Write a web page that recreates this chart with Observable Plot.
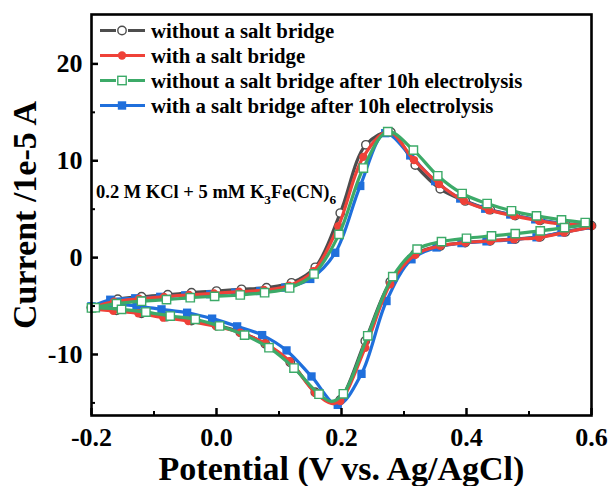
<!DOCTYPE html>
<html>
<head>
<meta charset="utf-8">
<script src="https://cdn.jsdelivr.net/npm/d3@7"></script>
<script src="https://cdn.jsdelivr.net/npm/@observablehq/plot@0.6"></script>
<style>
  body { margin: 0; background: #fff; }
  #chart { position: relative; width: 609px; height: 486px; font-family: "Liberation Serif", "Times New Roman", serif; }
  #chart svg { display: block; }
  .legend { position: absolute; left: 98px; top: 18px; font-weight: bold; font-size: 20.8px; color: #000; }
  .legend .row { display: flex; align-items: center; height: 25px; white-space: nowrap; }
  .legend .row svg { margin-right: 5px; }
  .note { position: absolute; left: 96px; top: 181px; font-weight: bold; font-size: 18.5px; white-space: nowrap; line-height: 22px; }
  .note sub { font-size: 0.72em; vertical-align: -0.45em; line-height: 0; }
</style>
</head>
<body>
<div id="chart"></div>
<script>
// ---- Cyclic voltammograms: potential (V vs. Ag/AgCl) and current (1e-5 A) ----
// Each scan: forward sweep -0.2 V -> 0.6 V, then reverse sweep back to -0.2 V.

const seriesNames = [
  "without a salt bridge",
  "with a salt bridge",
  "without a salt bridge after 10h electrolysis",
  "with a salt bridge after 10h electrolysis"
];

const switchE = 0.6; // upper switching potential

// without a salt bridge
const noBridgeFwdE = [-0.2, -0.158, -0.12, -0.078, -0.04, 0.0, 0.04, 0.08, 0.12, 0.158, 0.198, 0.239, 0.279, 0.318, 0.358, 0.398, 0.438, 0.478, 0.518, 0.558, 0.6];
const noBridgeFwdI = [-5.15, -4.3, -4.03, -3.83, -3.62, -3.45, -3.27, -3.1, -2.6, -1.0, 4.6, 11.65, 12.95, 9.55, 7.1, 5.85, 4.95, 4.35, 3.85, 3.5, 3.3];
const noBridgeRevE = [0.558, 0.518, 0.478, 0.438, 0.398, 0.358, 0.318, 0.278, 0.238, 0.198, 0.158, 0.118, 0.078, 0.038, 0.0, -0.04, -0.08, -0.12, -0.16, -0.2];
const noBridgeRevI = [2.65, 2.15, 1.92, 1.74, 1.56, 1.2, 0.4, -2.5, -8.6, -14.7, -13.9, -10.8, -8.9, -7.7, -7.0, -6.5, -6.1, -5.75, -5.45, -5.15];
const noBridgePeakC = [0.186, -15.0];

// with a salt bridge
const bridgeFwdE = [-0.2, -0.164, -0.124, -0.084, -0.044, -0.004, 0.036, 0.076, 0.116, 0.155, 0.195, 0.235, 0.275, 0.316, 0.356, 0.396, 0.436, 0.476, 0.516, 0.556, 0.6];
const bridgeFwdI = [-5.2, -4.55, -4.25, -4.05, -3.85, -3.7, -3.52, -3.35, -2.9, -1.4, 3.25, 10.4, 13.0, 10.07, 7.6, 5.86, 4.9, 4.31, 3.8, 3.45, 3.25];
const bridgeRevE = [0.556, 0.516, 0.476, 0.438, 0.398, 0.358, 0.318, 0.278, 0.238, 0.198, 0.158, 0.117, 0.078, 0.038, 0.0, -0.045, -0.085, -0.125, -0.165, -0.2];
const bridgeRevI = [2.59, 2.07, 1.9, 1.72, 1.55, 1.21, 0.3, -2.75, -9.3, -14.8, -13.96, -10.7, -8.85, -7.75, -7.1, -6.55, -6.2, -5.75, -5.5, -5.3];
const bridgePeakC = [0.184, -15.05];

// without a salt bridge, after 10 h electrolysis
const noBridge10hFwdE = [-0.2, -0.16, -0.12, -0.08, -0.042, -0.003, 0.038, 0.077, 0.117, 0.156, 0.196, 0.235, 0.274, 0.315, 0.354, 0.393, 0.433, 0.472, 0.512, 0.552, 0.59];
const noBridge10hFwdI = [-5.2, -4.75, -4.5, -4.34, -4.14, -4.0, -3.86, -3.62, -3.13, -1.69, 2.4, 9.25, 13.0, 11.1, 8.45, 6.62, 5.58, 4.83, 4.31, 3.9, 3.62];
const noBridge10hVertexI = 3.5;
const noBridge10hRevE = [0.557, 0.518, 0.478, 0.44, 0.4, 0.36, 0.321, 0.282, 0.242, 0.203, 0.164, 0.124, 0.084, 0.045, 0.005, -0.034, -0.074, -0.113, -0.152, -0.194];
const noBridge10hRevI = [3.1, 2.76, 2.48, 2.24, 2.0, 1.65, 0.87, -1.96, -8.07, -14.06, -14.1, -11.4, -9.3, -8.0, -7.06, -6.37, -6.03, -5.62, -5.34, -5.17];
const noBridge10hPeakC = [0.184, -14.85];

// with a salt bridge, after 10 h electrolysis
const bridge10hFwdE = [-0.2, -0.17, -0.13, -0.09, -0.05, -0.01, 0.03, 0.07, 0.11, 0.15, 0.19, 0.23, 0.27, 0.31, 0.35, 0.39, 0.43, 0.47, 0.51, 0.55, 0.59];
const bridge10hFwdI = [-5.05, -4.35, -4.2, -4.05, -3.9, -3.78, -3.62, -3.45, -3.1, -2.2, 0.5, 7.4, 12.85, 10.55, 7.9, 6.1, 5.05, 4.45, 3.95, 3.55, 3.3];
const bridge10hVertexI = 3.2;
const bridge10hRevE = [0.552, 0.512, 0.472, 0.432, 0.392, 0.352, 0.312, 0.272, 0.232, 0.194, 0.152, 0.112, 0.073, 0.033, -0.007, -0.047, -0.088, -0.128, -0.168, -0.2];
const bridge10hRevI = [2.6, 2.1, 1.85, 1.68, 1.5, 1.05, -0.17, -4.48, -12.0, -15.2, -12.27, -9.58, -8.0, -7.1, -6.3, -5.69, -5.34, -5.0, -4.8, -5.05];

// axis ticks
const xMajorTicks = [-0.2, 0.0, 0.2, 0.4, 0.6];
const xMinorTicks = [-0.1, 0.1, 0.3, 0.5];
const yMajorTicks = [-10, 0, 10, 20];
const yMinorTicks = [-15, -5, 5, 15];

const xTitle = "Potential (V vs. Ag/AgCl)";
const yTitle = "Current /1e-5 A";

// ---- assemble scans ----
const scans = [
  {name: seriesNames[0], fwdE: noBridgeFwdE, fwdI: noBridgeFwdI, revE: noBridgeRevE, revI: noBridgeRevI, vertexI: null, peakC: noBridgePeakC},
  {name: seriesNames[1], fwdE: bridgeFwdE, fwdI: bridgeFwdI, revE: bridgeRevE, revI: bridgeRevI, vertexI: null, peakC: bridgePeakC},
  {name: seriesNames[2], fwdE: noBridge10hFwdE, fwdI: noBridge10hFwdI, revE: noBridge10hRevE, revI: noBridge10hRevI, vertexI: noBridge10hVertexI, peakC: noBridge10hPeakC},
  {name: seriesNames[3], fwdE: bridge10hFwdE, fwdI: bridge10hFwdI, revE: bridge10hRevE, revI: bridge10hRevI, vertexI: bridge10hVertexI, peakC: null}
];

// look of each scan (legend order)
const looks = {
  [seriesNames[0]]: {color: "#4d4d4d", symbol: "circle", filled: false},
  [seriesNames[1]]: {color: "#ef4138", symbol: "circle", filled: true},
  [seriesNames[2]]: {color: "#3caa68", symbol: "square", filled: false},
  [seriesNames[3]]: {color: "#1f6fdc", symbol: "square", filled: true}
};
const drawOrder = [seriesNames[0], seriesNames[3], seriesNames[1], seriesNames[2]];

function tracePoints(s) {
  const pts = s.fwdE.map((e, i) => ({E: e, I: s.fwdI[i], marker: true}));
  if (s.vertexI != null) pts.push({E: switchE, I: s.vertexI, marker: false});
  const rev = s.revE.map((e, i) => ({E: e, I: s.revI[i], marker: true}));
  if (s.peakC) {
    const k = rev.findIndex(p => p.E < s.peakC[0]);
    rev.splice(k, 0, {E: s.peakC[0], I: s.peakC[1], marker: false});
  }
  return pts.concat(rev);
}

const width = 609, height = 486;
const margin = {top: 14, right: 18, bottom: 71, left: 91};
const innerW = width - margin.left - margin.right;
const innerH = height - margin.top - margin.bottom;

const marks = [];
for (const name of drawOrder) {
  const s = scans.find(d => d.name === name);
  const look = looks[name];
  const pts = tracePoints(s);
  marks.push(Plot.line(pts, {x: "E", y: "I", curve: "catmull-rom", stroke: look.color, strokeWidth: 3.2, strokeLinejoin: "round"}));
  marks.push(Plot.dot(pts.filter(p => p.marker), {
    x: "E", y: "I", symbol: look.symbol,
    r: look.symbol === "square" ? 4.7 : 4.2,
    fill: look.filled ? look.color : "white",
    stroke: look.filled ? "none" : look.color,
    strokeWidth: 1.4
  }));
}

// inward ticks, frame, tick labels and axis titles
marks.push(
  Plot.ruleX(xMajorTicks, {x: d => d, insetTop: innerH - 7, stroke: "black", strokeWidth: 2.5}),
  Plot.ruleX(xMinorTicks, {x: d => d, insetTop: innerH - 4, stroke: "black", strokeWidth: 2}),
  Plot.ruleY(yMajorTicks, {y: d => d, insetRight: innerW - 7, stroke: "black", strokeWidth: 2.5}),
  Plot.ruleY(yMinorTicks, {y: d => d, insetRight: innerW - 4, stroke: "black", strokeWidth: 2}),
  Plot.frame({stroke: "black", strokeWidth: 2.6}),
  Plot.axisX(xMajorTicks, {tickSize: 0, tickPadding: 12, tickFormat: d => d.toFixed(1), fontSize: 26, fontWeight: "bold", label: null}),
  Plot.axisY(yMajorTicks, {tickSize: 0, tickPadding: 9, tickFormat: d => String(d), fontSize: 26, fontWeight: "bold", label: null}),
  Plot.text([xTitle], {text: d => d, frameAnchor: "bottom", textAnchor: "middle", lineAnchor: "middle", dy: 54, fontSize: 34, fontWeight: "bold"}),
  Plot.text([yTitle], {text: d => d, frameAnchor: "left", textAnchor: "middle", lineAnchor: "middle", dx: -66, rotate: -90, fontSize: 34, fontWeight: "bold"})
);

const chart = Plot.plot({
  width, height,
  marginTop: margin.top, marginRight: margin.right, marginBottom: margin.bottom, marginLeft: margin.left,
  x: {domain: [-0.2, 0.6]},
  y: {domain: [-16.3, 25.1]},
  style: {fontFamily: "'Liberation Serif', 'Times New Roman', serif", color: "black", background: "white", overflow: "visible"},
  marks
});

const root = document.getElementById("chart");
root.appendChild(chart);

// legend
const legend = document.createElement("div");
legend.className = "legend";
for (const name of seriesNames) {
  const look = looks[name];
  const row = document.createElement("div");
  row.className = "row";
  const fill = look.filled ? look.color : "white";
  const stroke = look.filled ? "none" : look.color;
  const sym = look.symbol === "circle"
    ? `<circle cx="24" cy="12.5" r="4.2" fill="${fill}" stroke="${stroke}" stroke-width="1.4"/>`
    : `<rect x="19.8" y="8.3" width="8.4" height="8.4" fill="${fill}" stroke="${stroke}" stroke-width="1.4"/>`;
  const mid = look.filled ? `<line x1="18" x2="30" y1="12.5" y2="12.5" stroke="${look.color}" stroke-width="3"/>` : "";
  row.innerHTML = `<svg width="48" height="25"><line x1="2" x2="18" y1="12.5" y2="12.5" stroke="${look.color}" stroke-width="3"/><line x1="30" x2="47" y1="12.5" y2="12.5" stroke="${look.color}" stroke-width="3"/>${mid}${sym}</svg><span>${name}</span>`;
  legend.appendChild(row);
}
root.appendChild(legend);

// electrolyte annotation
const note = document.createElement("div");
note.className = "note";
note.innerHTML = "0.2 M KCl + 5 mM K<sub>3</sub>Fe(CN)<sub>6</sub>";
root.appendChild(note);
</script>
</body>
</html>
